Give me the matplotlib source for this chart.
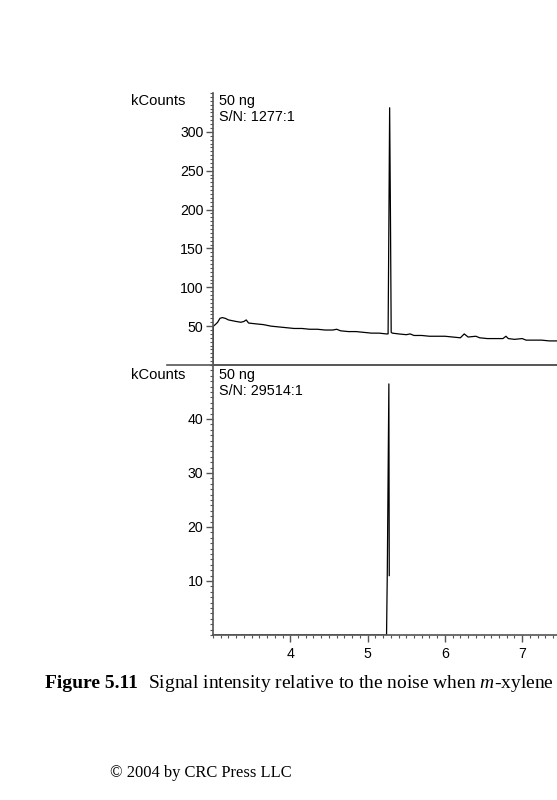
#!/usr/bin/env python3
"""Chromatogrammes m-xylène : rapport signal/bruit, deux modes d'acquisition."""

import matplotlib
matplotlib.use("Agg")
import matplotlib.pyplot as plt
from matplotlib.ticker import MultipleLocator

# Données (temps en min, signal en kCounts)
top_time = [3.000, 3.005, 3.03, 3.06, 3.09, 3.12, 3.16, 3.20, 3.25, 3.30,
            3.36, 3.40, 3.43, 3.46, 3.55, 3.65, 3.75, 3.85, 3.95, 4.05,
            4.15, 4.25, 4.35, 4.45, 4.55, 4.60, 4.65, 4.75, 4.85, 4.95,
            5.05, 5.15, 5.24, 5.265, 5.275, 5.285, 5.295, 5.305, 5.32, 5.40,
            5.50, 5.55, 5.60, 5.70, 5.80, 5.90, 6.00, 6.10, 6.20, 6.25,
            6.30, 6.40, 6.45, 6.55, 6.65, 6.75, 6.79, 6.82, 6.90, 7.00,
            7.05, 7.15, 7.25, 7.35, 7.45]
top_signal = [0, 50, 52, 55, 60, 61, 60, 58, 57, 56,
              55, 56, 58, 54, 53, 52, 50, 49, 48, 47,
              47, 46, 46, 45, 45, 46, 44, 43, 43, 42,
              41, 41, 40, 40, 180, 331, 200, 42, 41, 40,
              39, 40, 38, 38, 37, 37, 37, 36, 35, 40,
              36, 37, 35, 34, 34, 34, 37, 34, 33, 34,
              32, 32, 32, 31, 31]

bottom_time = [3.0, 5.245, 5.255, 5.275, 5.28]
bottom_signal = [0, 0, 12, 46.5, 11]

top_labels = ["50 ng", "S/N: 1277:1"]
bottom_labels = ["50 ng", "S/N: 29514:1"]

SANS = ["Liberation Sans", "DejaVu Sans"]
SERIF = ["Liberation Serif", "DejaVu Serif"]
AXIS_COLOR = "#555555"

plt.rcParams["mathtext.fontset"] = "custom"
plt.rcParams["mathtext.it"] = "Liberation Serif:italic"
plt.rcParams["mathtext.rm"] = "Liberation Serif"

W, H = 557, 800
fig = plt.figure(figsize=(W / 100, H / 100), dpi=100)

left = 213 / W
ax_top = fig.add_axes([left, 1 - 365 / H, 1 - left, (365 - 93) / H])
ax_bot = fig.add_axes([left, 1 - 635 / H, 1 - left, (635 - 365) / H])


def style_axis(ax, ymax, major, minor):
    for side in ("top", "right"):
        ax.spines[side].set_visible(False)
    for side in ("left", "bottom"):
        ax.spines[side].set_color(AXIS_COLOR)
        ax.spines[side].set_linewidth(1.2)
    ax.set_xlim(3.0, 7.45)
    ax.set_ylim(0, ymax)
    ax.yaxis.set_major_locator(MultipleLocator(major))
    ax.yaxis.set_minor_locator(MultipleLocator(minor))
    ax.xaxis.set_major_locator(MultipleLocator(1))
    ax.xaxis.set_minor_locator(MultipleLocator(0.1))
    ax.tick_params(axis="both", which="major", length=5, width=1,
                   color=AXIS_COLOR, labelsize=10.2, pad=2)
    ax.tick_params(axis="both", which="minor", length=2.5, width=0.8,
                   color=AXIS_COLOR)
    ax.patch.set_alpha(0)


style_axis(ax_top, 350, 50, 5)
style_axis(ax_bot, 50, 10, 1)

ax_top.set_yticks([50, 100, 150, 200, 250, 300])
ax_top.tick_params(axis="x", which="both", bottom=False, labelbottom=False)
ax_bot.set_yticks([10, 20, 30, 40])
ax_bot.set_xticks([4, 5, 6, 7])
ax_bot.tick_params(axis="x", which="major", pad=4)
for lab in ax_bot.get_xticklabels() + ax_bot.get_yticklabels() + ax_top.get_yticklabels():
    lab.set_family(SANS)

# Ligne de base du panneau supérieur prolongée vers la gauche
ax_top.plot([-(213 - 167) / (W - 213), 1], [0, 0], transform=ax_top.transAxes,
            color=AXIS_COLOR, lw=1.2, clip_on=False, zorder=5)

ax_top.plot(top_time, top_signal, color="black", lw=0.9)
ax_bot.plot(bottom_time, bottom_signal, color="black", lw=0.9)

for ax, labels, y0 in ((ax_top, top_labels, 101), (ax_bot, bottom_labels, 375)):
    fig.text(219 / W, 1 - y0 / H, labels[0], fontsize=10.4, family=SANS, va="center")
    fig.text(219 / W, 1 - (y0 + 16) / H, labels[1], fontsize=10.4, family=SANS, va="center")
    fig.text(131 / W, 1 - y0 / H, "kCounts", fontsize=10.6, family=SANS, va="center")

# Légende de la figure
fig.text(45 / W, 1 - 683 / H, "Figure 5.11", fontsize=14, family=SERIF,
         weight="bold", va="center")
fig.text(148 / W, 1 - 683 / H,
         "Signal intensity relative to the noise when $m$-xylene is analyzed",
         fontsize=14, family=SERIF, va="center")
fig.text(110 / W, 1 - 773 / H, "\u00a9 2004 by CRC Press LLC", fontsize=11.9,
         family=SERIF, va="center")

fig.savefig("out.png", dpi=100)
